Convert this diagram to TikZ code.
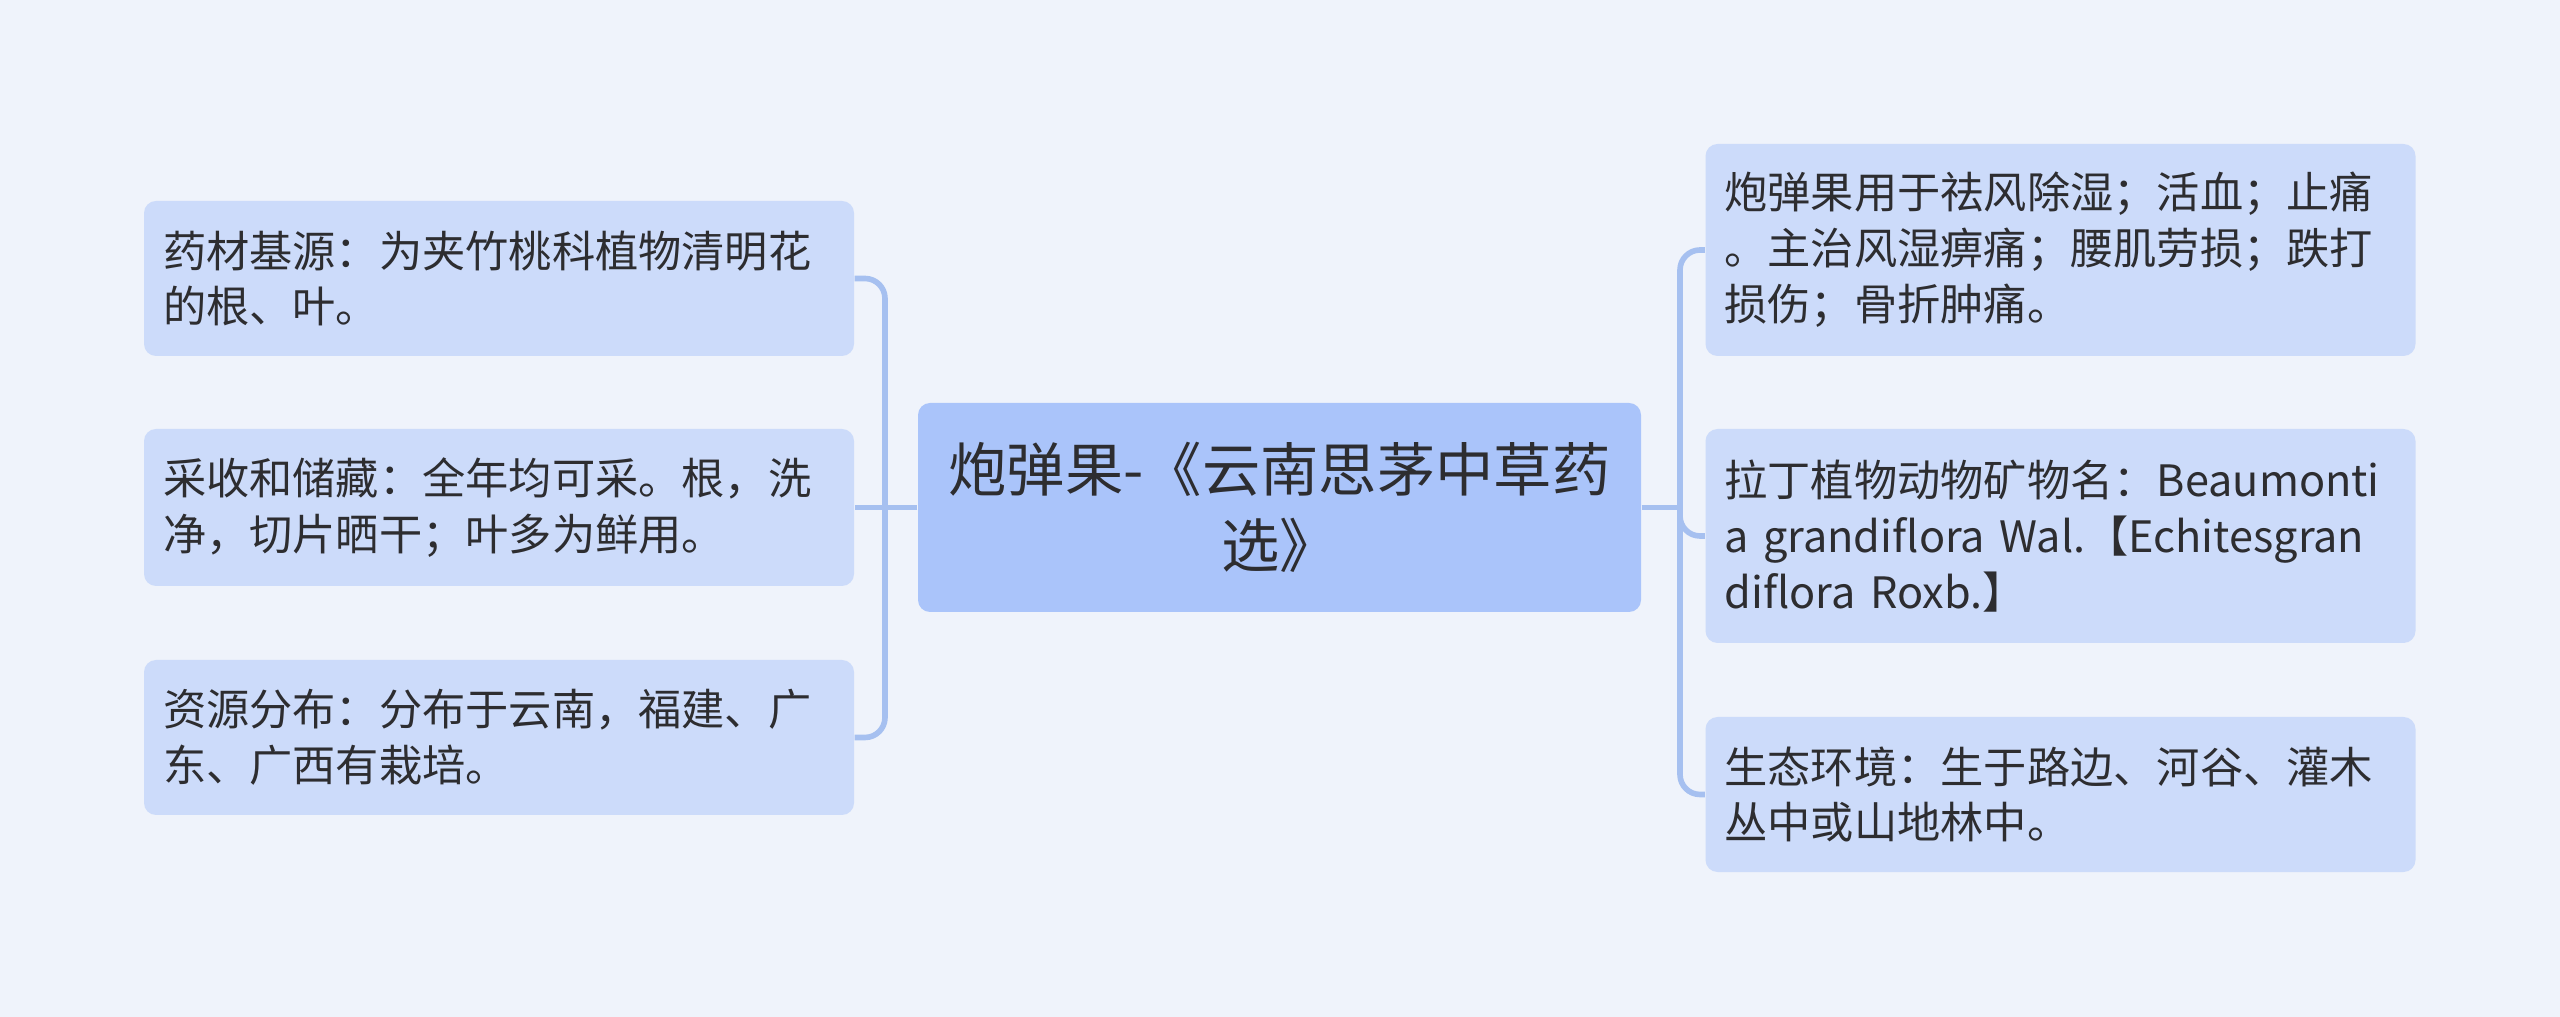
\documentclass[tikz,border=0pt]{standalone}
\usepackage{fontspec}
\setmainfont{Noto Sans CJK SC}

\definecolor{bgcol}{RGB}{239,243,251}
\definecolor{rootcol}{RGB}{170,196,250}
\definecolor{leafcol}{RGB}{204,219,250}
\definecolor{linkcol}{RGB}{166,192,240}
\definecolor{inkcol}{RGB}{45,45,48}

\tikzset{
    root/.style={fill=rootcol, rounded corners=0.12cm, text=inkcol, align=center,
        minimum width=7.23cm, minimum height=2.09cm, text width=7.0cm,
        inner xsep=0.1cm, font=\fontsize{16.6pt}{21.5pt}\selectfont},
    leaf/.style={fill=leafcol, rounded corners=0.12cm, text=inkcol, align=left,
        minimum width=7.1cm, text width=6.72cm, inner xsep=0.19cm,
        font=\fontsize{12.3pt}{15.9pt}\selectfont},
    link/.style={draw=linkcol, line width=1.6pt, rounded corners=0.2cm}
}

\begin{document}
\begin{tikzpicture}
    % Background and picture size
    \fill[bgcol] (0,0) rectangle (25.6,-10.17);
    \useasboundingbox (0,0) rectangle (25.6,-10.17);

    % Central topic
    \node[root] (c) at (12.795,-5.075) {炮弹果-《云南思茅中草药\\选》};

    % Left branches
    \node[leaf, minimum height=1.55cm] (l1) at (4.99,-2.785)
        {药材基源：为夹竹桃科植物清明花\\的根、叶。};
    \node[leaf, minimum height=1.57cm] (l2) at (4.99,-5.075)
        {采收和储藏：全年均可采。根，洗\\净，切片晒干；叶多为鲜用。};
    \node[leaf, minimum height=1.55cm] (l3) at (4.99,-7.375)
        {资源分布：分布于云南，福建、广\\东、广西有栽培。};

    % Right branches
    \node[leaf, minimum height=2.12cm] (r1) at (20.605,-2.50)
        {炮弹果用于祛风除湿；活血；止痛\\。主治风湿痹痛；腰肌劳损；跌打\\损伤；骨折肿痛。};
    \node[leaf, minimum height=2.14cm] (r2) at (20.605,-5.36)
        {拉丁植物动物矿物名：Beaumonti\\a grandiflora Wal.【Echitesgran\\diflora Roxb.】};
    \node[leaf, minimum height=1.55cm] (r3) at (20.605,-7.945)
        {生态环境：生于路边、河谷、灌木\\丛中或山地林中。};

    % Joints of the brackets
    \coordinate (lj) at (8.85,-5.075);
    \coordinate (rj) at (16.80,-5.075);

    % Connectors
    \draw[link] (l1.east) -| (lj) |- (l3.east);
    \draw[link] (c.west) -- (l2.east);
    \draw[link] (r1.west) -| (rj) |- (r3.west);
    \draw[link] (c.east) -- (rj);
    \draw[link] (rj) |- (r2.west);
\end{tikzpicture}
\end{document}
